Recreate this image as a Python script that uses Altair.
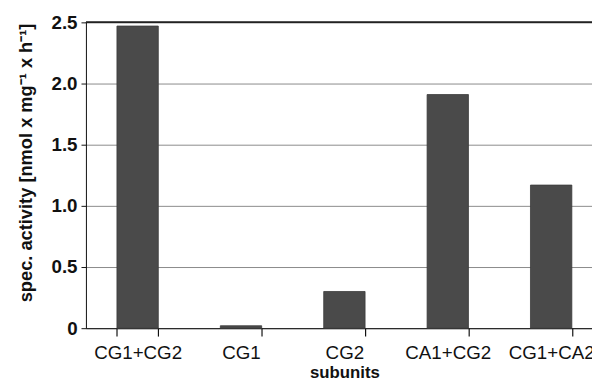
import altair as alt
import pandas as pd

subunits = ["CG1+CG2", "CG1", "CG2", "CA1+CG2", "CG1+CA2"]
activity = [2.47, 0.02, 0.30, 1.91, 1.17]

df = pd.DataFrame({"subunits": subunits, "activity": activity})

W = 513
H = 310
band = 104.8

bars = alt.Chart(df).mark_bar(color="#4a4a4a", stroke="#3a3a3a", strokeWidth=0.8).encode(
    x=alt.X(
        "subunits:N",
        sort=subunits,
        scale=alt.Scale(range=[0, band * 5], paddingInner=0.6, paddingOuter=0.3),
        axis=alt.Axis(
            title="subunits",
            labelAngle=0,
            labelFont="Liberation Sans",
            labelFontSize=19,
            labelColor="#111",
            labelPadding=8,
            titleFont="Liberation Sans",
            titleFontSize=17,
            titleFontWeight="bold",
            titleColor="#111",
            titlePadding=2,
            domainColor="#111",
            tickColor="#111",
            tickSize=8,
            tickWidth=1.2,
            tickBand="extent",
            grid=False,
        ),
    ),
    y=alt.Y(
        "activity:Q",
        scale=alt.Scale(domain=[0, 2.5], nice=False),
        axis=alt.Axis(
            title="spec. activity [nmol x mg⁻¹ x h⁻¹]",
            values=[0, 0.5, 1.0, 1.5, 2.0, 2.5],
            labelExpr="datum.value == 0 ? '0' : format(datum.value, '.1f')",
            labelFont="Liberation Sans",
            labelFontSize=19,
            labelFontWeight="bold",
            labelColor="#111",
            labelPadding=4,
            titleFont="Liberation Sans",
            titleFontSize=18.5,
            titleFontWeight="bold",
            titleColor="#111",
            titlePadding=16,
            titleY=142,
            domainColor="#111",
            tickColor="#111",
            tickSize=5,
            grid=True,
            gridColor="#8a8a8a",
            gridWidth=1,
        ),
    ),
)

top = alt.Chart(df).mark_rule(color="#222", strokeWidth=1.2).encode(
    y=alt.datum(2.5), x=alt.value(0), x2=alt.value(W)
)

chart = alt.layer(bars, top).properties(
    width=W,
    height=H,
    autosize=alt.AutoSizeParams(type="none"),
    padding={"left": 79, "top": 12, "right": 0, "bottom": 54},
).configure_view(stroke=None).configure(background="white")

chart.save("out.html", embed_options={"renderer": "svg", "actions": False})
